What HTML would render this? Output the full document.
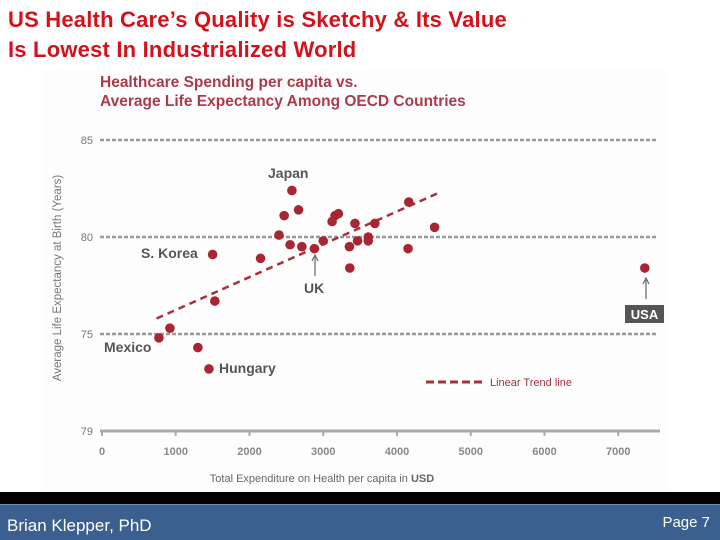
<!DOCTYPE html>
<html><head><meta charset="utf-8">
<style>
body{margin:0;width:720px;height:540px;overflow:hidden;background:#fff;font-family:"Liberation Sans",sans-serif;position:relative}
.t{position:absolute;left:8px;color:#d4121c;font-weight:bold;font-size:22px;line-height:30px;letter-spacing:0.2px}
</style></head><body>
<div class="t" style="top:5px">US Health Care’s Quality is Sketchy &amp; Its Value</div>
<div class="t" style="top:35px">Is Lowest In Industrialized World</div>
<svg id="chart" width="720" height="492" style="position:absolute;left:0;top:0">
<rect x="42" y="68" width="626" height="424" fill="#fdfdfd"/>
<text x="100" y="87" font-size="15.5" font-weight="bold" fill="#a83c4c">Healthcare Spending per capita vs.</text>
<text x="100" y="106" font-size="15.5" font-weight="bold" fill="#a83c4c">Average Life Expectancy Among OECD Countries</text>
<text transform="translate(61,278) rotate(-90)" text-anchor="middle" font-size="11.5" fill="#777">Average Life Expectancy at Birth (Years)</text>
<text x="322" y="482" text-anchor="middle" font-size="11" fill="#666">Total Expenditure on Health per capita in <tspan font-weight="bold">USD</tspan></text>
<g id="grid"></g><g id="trend"></g><g id="pts"></g><g id="ann"></g>
</svg>
<div style="position:absolute;left:0;top:492px;width:720px;height:12px;background:#000"></div>
<div style="position:absolute;left:0;top:504px;width:720px;height:36px;background:#3b5f8e;border-top:1px solid #6f8fb5;box-sizing:border-box">
<span style="position:absolute;left:7px;top:11px;color:#fff;font-size:17px">Brian Klepper, PhD</span>
<span style="position:absolute;right:10px;top:9px;color:#fff;font-size:15px">Page 7</span>
</div>
<script>
const yTicks=[85,80,75];
const xTicks=[0,1000,2000,3000,4000,5000,6000,7000];
const spend=[772,921,1300,1450,1500,1530,2150,2400,2470,2575,2550,2665,2710,2880,3000,3120,3160,3205,3430,3355,3360,3465,3610,3610,3700,4150,4160,4510,7360];
const life=[74.8,75.3,74.3,73.2,79.1,76.7,78.9,80.1,81.1,82.4,79.6,81.4,79.5,79.4,79.8,80.8,81.1,81.2,80.7,79.5,78.4,79.8,80.0,79.8,80.7,79.4,81.8,80.5,78.4];
const trendX=[740,4550];
const trendY=[75.8,82.25];
const X=v=>102+v*0.07375;
const Y=v=>237-(v-80)*19.4;
const NS="http://www.w3.org/2000/svg";
function mk(p,tag,at){const e=document.createElementNS(NS,tag);for(const k in at)e.setAttribute(k,at[k]);document.getElementById(p).appendChild(e);return e;}
yTicks.forEach(t=>{
 const l=mk('grid','line',{x1:100,x2:658,y1:Y(t),y2:Y(t),stroke:'#999','stroke-width':2.5,'stroke-dasharray':'4 2'});
 
 
 const tx=mk('grid','text',{x:93,y:Y(t)+4,'text-anchor':'end','font-size':11,fill:'#777'});tx.textContent=t;
 
 
});
const ax=mk('grid','line',{x1:100,x2:660,y1:431,y2:431,stroke:'#aaa','stroke-width':3});


const y79=mk('grid','text',{x:93,y:435,'text-anchor':'end','font-size':11,fill:'#777'});y79.textContent='79';


xTicks.forEach(t=>{
 mk('grid','line',{x1:X(t),x2:X(t),y1:431,y2:436,stroke:'#aaa','stroke-width':2});
 const tx=mk('grid','text',{x:X(t),y:455,'text-anchor':'middle','font-size':11,'font-weight':'bold',fill:'#888'});tx.textContent=t;
 
 
});
const tl=mk('trend','line',{x1:X(trendX[0]),y1:Y(trendY[0]),x2:X(trendX[1]),y2:Y(trendY[1]),stroke:'#a8303e','stroke-width':2.5,'stroke-dasharray':'7 5'});


spend.forEach((s,i)=>{
 const c=mk('pts','circle',{cx:X(s),cy:Y(life[i]),r:4.8,fill:'#a82532'});
 
 
});
const A=document.getElementById('ann');
A.innerHTML=`
<g font-size="14" font-weight="bold" fill="#555">
<text x="268" y="178">Japan</text>
<text x="141" y="258">S. Korea</text>
<text x="104" y="352">Mexico</text>
<text x="219" y="373">Hungary</text>
<text x="304" y="293">UK</text>
</g>
<line x1="315" y1="276" x2="315" y2="257" stroke="#666" stroke-width="1.2"/><path d="M312,261 L315,255 L318,261" fill="none" stroke="#666" stroke-width="1.2"/>
<line x1="646" y1="299" x2="646" y2="280" stroke="#666" stroke-width="1.2"/><path d="M643,284 L646,278 L649,284" fill="none" stroke="#666" stroke-width="1.2"/>
<rect x="625" y="305" width="39" height="18" fill="#555"/>
<text x="644.5" y="319" text-anchor="middle" font-size="13" font-weight="bold" fill="#fff">USA</text>
<line x1="426" y1="382" x2="483" y2="382" stroke="#a8303e" stroke-width="3" stroke-dasharray="8 4"/>
<text x="490" y="386" font-size="11" fill="#a8303e">Linear Trend line</text>`;
</script>
</body></html>
